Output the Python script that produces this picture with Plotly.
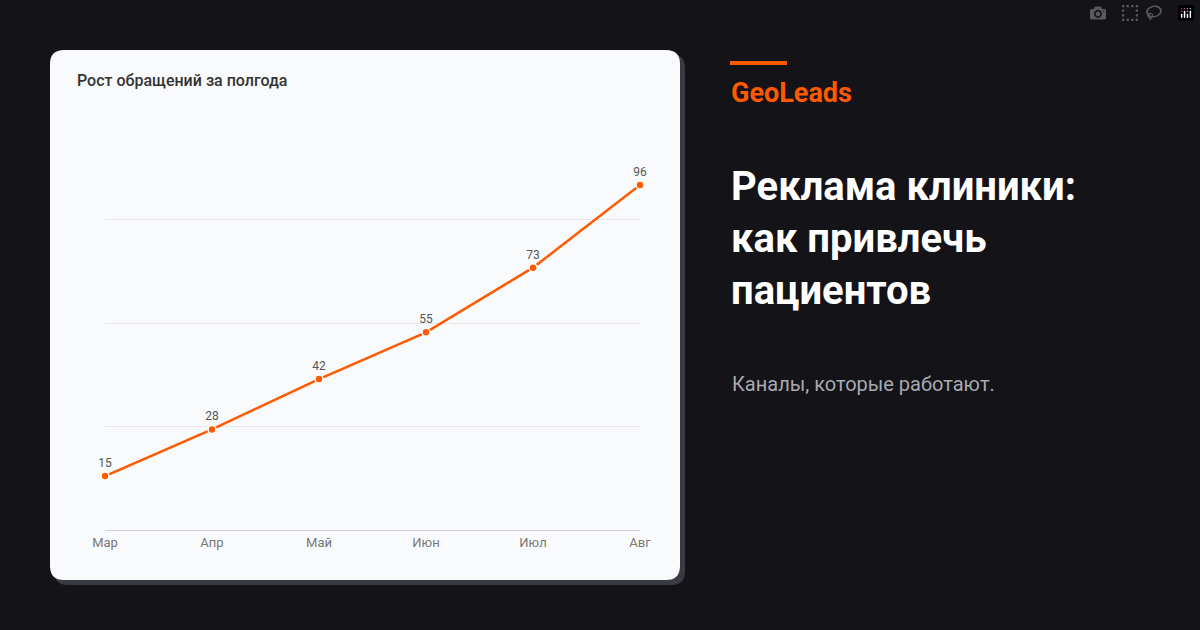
import plotly.graph_objects as go

months = ["Мар", "Апр", "Май", "Июн", "Июл", "Авг"]
values = [15, 28, 42, 55, 73, 96]

W, H = 1200, 630
def px(x): return x / W
def py(y): return 1 - y / H

def rrect(x0, y0, x1, y1, r):
    X0, X1 = px(x0), px(x1)
    Y0, Y1 = py(y1), py(y0)
    rx, ry = r / W, r / H
    return (f"M{X0+rx},{Y0} L{X1-rx},{Y0} Q{X1},{Y0} {X1},{Y0+ry} "
            f"L{X1},{Y1-ry} Q{X1},{Y1} {X1-rx},{Y1} L{X0+rx},{Y1} "
            f"Q{X0},{Y1} {X0},{Y1-ry} L{X0},{Y0+ry} Q{X0},{Y0} {X0+rx},{Y0} Z")

fig = go.Figure(go.Scatter(
    x=months, y=values, mode="lines+markers+text",
    line=dict(color="#ff5a00", width=2.5),
    marker=dict(size=8, color="#ff5a00", line=dict(color="white", width=1.5)),
    text=[str(v) for v in values], textposition="top center",
    textfont=dict(size=12, color="#555"), cliponaxis=False, hoverinfo="skip"))

fig.update_layout(
    width=W, height=H, margin=dict(l=0, r=0, t=0, b=0, pad=0, autoexpand=False),
    paper_bgcolor="#131318", plot_bgcolor="rgba(0,0,0,0)",
    font=dict(family="Roboto"), showlegend=False,
    xaxis=dict(domain=[px(105), px(640)], showgrid=False, showline=True,
               linecolor="#cfcfd4", ticks="", tickfont=dict(size=13, color="#777"),
               range=[0, 5], fixedrange=True, automargin=False),
    yaxis=dict(domain=[py(530), py(116)], range=[0, 115.2], dtick=28.8,
               showticklabels=False, gridcolor="#e6e6ea", zeroline=False,
               fixedrange=True, automargin=False),
    shapes=[
        dict(type="path", xref="paper", yref="paper", path=rrect(54, 54, 685, 585, 14),
             fillcolor="#3a3a42", line=dict(width=0), layer="below"),
        dict(type="path", xref="paper", yref="paper", path=rrect(50, 50, 680, 580, 14),
             fillcolor="#f9fafc", line=dict(width=0), layer="below"),
        dict(type="rect", xref="paper", yref="paper", x0=px(730), x1=px(787),
             y0=py(65), y1=py(61), fillcolor="#ff5a00", line=dict(width=0)),
    ],
    annotations=[
        dict(text="Рост обращений за полгода", x=px(75), y=py(81), xref="paper", yref="paper",
             xanchor="left", yanchor="middle", showarrow=False,
             font=dict(size=16, color="#333", family="Roboto", weight=500)),
        dict(text="<b>GeoLeads</b>", x=px(729), y=py(93), xref="paper", yref="paper",
             xanchor="left", yanchor="middle", showarrow=False,
             font=dict(size=27, color="#ff5a00")),
        dict(text="<b>Реклама клиники:<br>как привлечь<br>пациентов</b>", x=px(729), y=py(238),
             xref="paper", yref="paper", xanchor="left", yanchor="middle", align="left",
             showarrow=False, font=dict(size=40, color="white")),
        dict(text="Каналы, которые работают.", x=px(730), y=py(384), xref="paper", yref="paper",
             xanchor="left", yanchor="middle", showarrow=False,
             font=dict(size=20, color="#a9a9b0")),
    ])

fig.write_html("out.html")
with open("out.html", encoding="utf-8") as f:
    html = f.read()
html = html.replace("<head>", "<head><style>html,body{margin:0;padding:0;overflow:hidden;background:#131318}</style>", 1)
with open("out.html", "w", encoding="utf-8") as f:
    f.write(html)
